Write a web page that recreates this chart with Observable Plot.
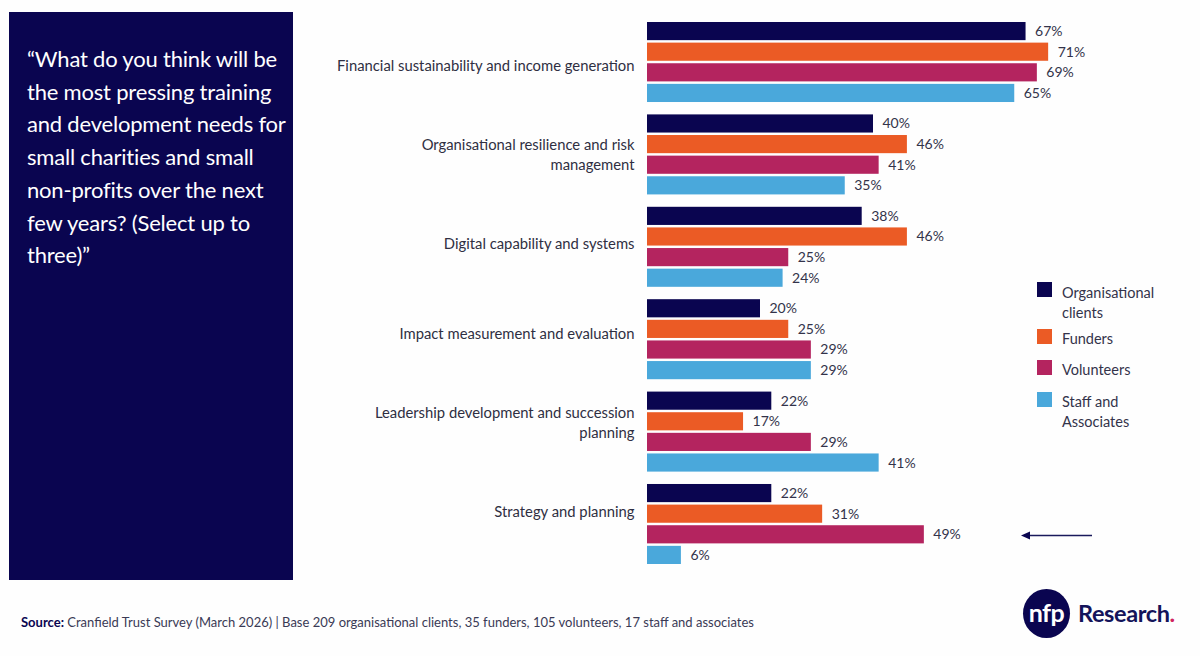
<!DOCTYPE html>
<html><head><meta charset="utf-8">
<script src="https://cdn.jsdelivr.net/npm/d3@7"></script>
<script src="https://cdn.jsdelivr.net/npm/@observablehq/plot@0.6"></script>
<style>
html,body{margin:0;padding:0;background:#fefefe;width:1200px;height:656px;overflow:hidden;font-family:Lato,sans-serif}
#chart{position:absolute;left:0;top:0}
.abs{position:absolute}
#panel{left:9px;top:12px;width:284px;height:568px;background:#0a0550;color:#fff;font-size:22px;line-height:32.7px;letter-spacing:-.2px;box-sizing:border-box;padding:31px 0 0 18px;white-space:pre}
#legend .sw{position:absolute;left:1037px;width:15px;height:15px}
#legend .lb{position:absolute;left:1062px;font-size:14.5px;line-height:19.5px;color:#33334a;white-space:pre}
#source{left:21px;top:614px;font-size:13px;color:#3a3a55;white-space:pre}
#source b{color:#0a0550}
#logoC{left:1023px;top:589px;width:47px;height:49px;border-radius:50%;background:#0a0550;color:#fff;font-size:25px;font-weight:700;text-align:center;line-height:47px;letter-spacing:-.5px}
#logoT{left:1078px;top:599px;font-size:23.5px;font-weight:700;color:#14145a;letter-spacing:-.4px;white-space:pre}
#logoT span{color:#d0245f}
</style></head><body>
<div id="chart" class="abs"></div>
<div id="panel" class="abs"></div>
<div id="legend"></div>
<svg class="abs" style="left:1015px;top:525px" width="85" height="20"><line x1="12" y1="10.5" x2="77" y2="10.5" stroke="#1a1a5c" stroke-width="1.3"/><path d="M6 10.5L15 6.5V14.5Z" fill="#0a0550"/></svg>
<div id="source" class="abs"><b>Source:</b> Cranfield Trust Survey (March 2026) | Base 209 organisational clients, 35 funders, 105 volunteers, 17 staff and associates</div>
<div id="logoC" class="abs">nfp</div>
<div id="logoT" class="abs">Research<span>.</span></div>
<script>
const categories = [
  "Financial sustainability and income generation",
  "Organisational resilience and risk\nmanagement",
  "Digital capability and systems",
  "Impact measurement and evaluation",
  "Leadership development and succession\nplanning",
  "Strategy and planning"
];
const series = ["Organisational clients","Funders","Volunteers","Staff and Associates"];
const legendLabels = ["Organisational\nclients","Funders","Volunteers","Staff and\nAssociates"];
const colors = ["#0a0550","#eb5b25","#b4245f","#4aa8db"];
const organisationalClients = [67,40,38,20,22,22];
const funders = [71,46,46,25,17,31];
const volunteers = [69,41,25,29,29,49];
const staffAndAssociates = [65,35,24,29,41,6];
const question = "“What do you think will be\nthe most pressing training\nand development needs for\nsmall charities and small\nnon-profits over the next\nfew years? (Select up to\nthree)”";

const rows = [organisationalClients,funders,volunteers,staffAndAssociates]
  .flatMap((vals,s)=>vals.map((v,c)=>({category:categories[c],series:series[s],value:v})));

const font = "Lato, sans-serif";
const labelDrift = -3.2;
const plot = Plot.plot({
  width:1200,height:656,
  marginLeft:647,marginRight:0,marginTop:22,marginBottom:92,
  style:{background:"transparent",fontFamily:font},
  x:{domain:[0,85],range:[647,647+85*5.65],axis:null},
  y:{domain:series,paddingInner:.12,paddingOuter:0,round:false,axis:null},
  fy:{domain:categories,paddingInner:.134,paddingOuter:0,round:false,axis:null},
  color:{domain:series,range:colors},
  marks:[
    Plot.barX(rows,{x:"value",y:"series",fy:"category",fill:"series"}),
    Plot.text(rows,{x:"value",y:"series",fy:"category",text:d=>d.value+"%",dx:9,textAnchor:"start",fontSize:14,fill:"#33334a"}),
    ...categories.map((c,i)=>Plot.text([c],{fy:d=>d,text:d=>d,frameAnchor:"left",textAnchor:"end",dx:-13,dy:2+labelDrift*i,fontSize:14.8,lineHeight:1.36,fill:"#2f2f42"}))
  ]
});
document.getElementById("chart").appendChild(plot);
document.getElementById("panel").textContent = question;
const swTop=[282,329,360,392], lbTop=[283,329,360,392];
const legend=document.getElementById("legend");
series.forEach((s,i)=>{
  const sw=document.createElement("div");sw.className="sw";sw.style.top=swTop[i]+"px";sw.style.background=colors[i];legend.appendChild(sw);
  const lb=document.createElement("div");lb.className="lb";lb.style.top=lbTop[i]+"px";lb.textContent=legendLabels[i];legend.appendChild(lb);
});
</script>
</body></html>
